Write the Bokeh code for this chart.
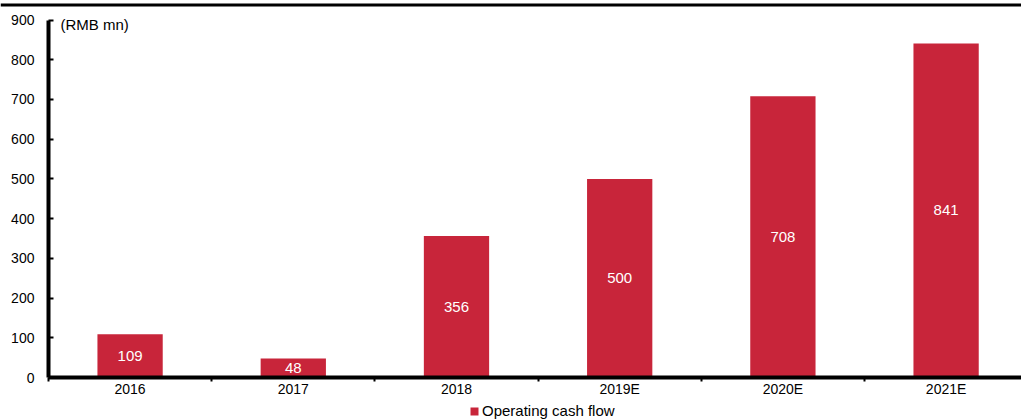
from bokeh.plotting import figure
from bokeh.models import (ColumnDataSource, FixedTicker, Legend, LegendItem, Label,
                          Range1d, BoxAnnotation)
from bokeh.embed import file_html
from bokeh.resources import INLINE

categories = ["2016", "2017", "2018", "2019E", "2020E", "2021E"]
operating_cash_flow = [109, 48, 356, 500, 708, 841]
y_ticks = [0, 100, 200, 300, 400, 500, 600, 700, 800, 900]
unit_label = "(RMB mn)"
series_name = "Operating cash flow"

BAR_COLOR = "#C8253A"
FONT = "Liberation Sans"

xs = [i + 0.5 for i in range(len(categories))]
src = ColumnDataSource(dict(
    x=xs,
    top=operating_cash_flow,
    mid=[v / 2 for v in operating_cash_flow],
    label=[str(v) for v in operating_cash_flow],
))

# The frame covers the whole canvas; axes are pinned with fixed_location so that
# the legend below the x axis can live inside the frame.
p = figure(width=1021, height=419,
           x_range=Range1d(-0.294, 5.962), y_range=Range1d(-105.7, 949.1),
           output_backend="svg", toolbar_location=None,
           min_border_left=0, min_border_right=0, min_border_top=0, min_border_bottom=0)
p.outline_line_color = None
p.xgrid.visible = False
p.ygrid.visible = False
p.background_fill_color = "white"
p.border_fill_color = "white"

bars = p.vbar(x="x", top="top", width=0.4, bottom=0, source=src,
              fill_color=BAR_COLOR, line_color=None)
p.text(x="x", y="mid", text="label", source=src, text_color="white",
       text_align="center", text_baseline="middle", text_font_size="15px",
       text_font={"value": FONT})

# x axis: labels at category centres, ticks at category boundaries
p.xaxis.fixed_location = 0
p.xaxis.bounds = (0, len(categories))
p.xaxis.ticker = FixedTicker(ticks=xs, minor_ticks=list(range(len(categories) + 1)))
p.xaxis.major_label_overrides = {x: c for x, c in zip(xs, categories)}
p.xaxis.major_tick_line_color = None
p.xaxis.major_tick_out = 0
p.xaxis.major_tick_in = 0
p.xaxis.minor_tick_line_color = "black"
p.xaxis.minor_tick_line_width = 2
p.xaxis.minor_tick_out = 4
p.xaxis.minor_tick_in = 0
p.xaxis.axis_line_width = 4
p.xaxis.axis_line_color = "black"
p.xaxis.major_label_standoff = -1
p.xaxis.major_label_text_font = FONT
p.xaxis.major_label_text_font_size = "14px"
p.xaxis.major_label_text_color = "black"

p.yaxis.fixed_location = 0
p.yaxis.bounds = (0, 900)
p.yaxis.ticker = FixedTicker(ticks=y_ticks, minor_ticks=[])
p.yaxis.axis_line_width = 4
p.yaxis.axis_line_color = "black"
p.yaxis.major_tick_in = 5
p.yaxis.major_tick_out = 0
p.yaxis.major_tick_line_width = 2
p.yaxis.minor_tick_line_color = None
p.yaxis.major_label_standoff = 14
p.yaxis.major_label_text_font = FONT
p.yaxis.major_label_text_font_size = "14px"
p.yaxis.major_label_text_color = "black"

p.add_layout(Label(x=0, y=900, x_offset=12, y_offset=4, text=unit_label,
                   text_baseline="top", text_font=FONT, text_font_size="15px",
                   text_color="black"))

# thick rule at the very top (remnant of the cropped title block)
p.add_layout(BoxAnnotation(left=0, right=1021, top=416, bottom=413,
                           left_units="screen", right_units="screen",
                           top_units="screen", bottom_units="screen",
                           fill_color="black", fill_alpha=1, line_color=None))

legend = Legend(items=[LegendItem(label=series_name, renderers=[bars])],
                location=(469, 0), orientation="horizontal",
                padding=0, margin=0, spacing=0,
                glyph_width=10, glyph_height=10, label_standoff=3,
                label_text_font=FONT, label_text_font_size="15px",
                label_text_color="black",
                label_height=17, border_line_color=None,
                background_fill_alpha=0)
p.add_layout(legend, "center")

open("out.html", "w").write(file_html(p, INLINE))
